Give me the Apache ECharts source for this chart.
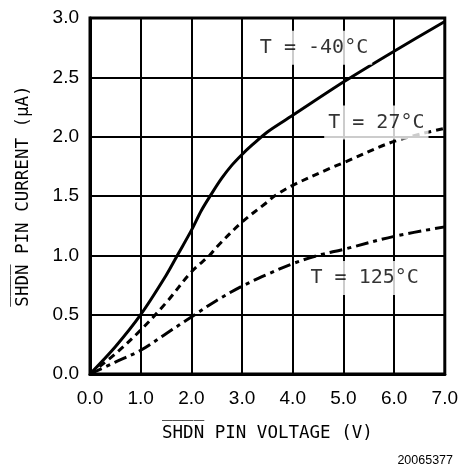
<!DOCTYPE html>
<html>
<head>
<meta charset="utf-8">
<script src="https://cdn.jsdelivr.net/npm/echarts@6/dist/echarts.min.js"></script>
<style>
html,body{margin:0;padding:0;background:#fff;}
#chart{width:461px;height:474px;}
</style>
</head>
<body>
<div id="chart"></div>
<script>
// Data
const voltageM40 = [0, 0.5, 1.0, 1.5, 1.75, 2.0, 2.2, 2.4, 2.6, 2.8, 3.0, 3.2, 3.5, 4.0, 5.0, 6.0, 7.0];
const currentM40 = [0, 0.23, 0.5, 0.83, 1.02, 1.21, 1.38, 1.52, 1.65, 1.76, 1.85, 1.93, 2.04, 2.18, 2.46, 2.72, 2.97];

const voltage27 = [0, 0.5, 1.0, 1.5, 2.0, 2.36, 2.5, 3.0, 3.5, 3.64, 4.0, 4.72, 5.0, 6.0, 7.0];
const current27 = [0, 0.17, 0.37, 0.6, 0.86, 1.0, 1.07, 1.28, 1.45, 1.5, 1.59, 1.73, 1.78, 1.96, 2.07];

const voltage125 = [0, 0.5, 1.0, 1.5, 2.0, 2.5, 3.0, 3.5, 4.0, 4.5, 5.0, 6.0, 7.0];
const current125 = [0, 0.1, 0.2, 0.34, 0.48, 0.62, 0.74, 0.84, 0.93, 1.0, 1.05, 1.16, 1.24];

const labelTexts = ['T = -40°C', 'T = 27°C', 'T = 125°C'];
const labelX = [4.42, 5.65, 5.42];
const labelY = [2.75, 2.12, 0.81];

const xTicks = [0, 1, 2, 3, 4, 5, 6, 7];
const yTicks = [0, 0.5, 1.0, 1.5, 2.0, 2.5, 3.0];

const xName = 'S\u0305H\u0305D\u0305N\u0305 PIN VOLTAGE (V)';
const yName = 'S\u0305H\u0305D\u0305N\u0305 PIN CURRENT (\u03BCA)';
const figId = '20065377';

function zip(xs, ys) { return xs.map((x, i) => [x, ys[i]]); }

const chart = echarts.init(document.getElementById('chart'), null, {renderer: 'canvas'});
const monoFont = '"DejaVu Sans Mono", "Liberation Mono", monospace';
const sansFont = '"Liberation Sans", Arial, sans-serif';

chart.setOption({
  animation: false,
  backgroundColor: '#fff',
  title: {
    text: figId,
    right: 3,
    bottom: 2,
    textStyle: {fontFamily: sansFont, fontSize: 12.5, fontWeight: 'normal', color: '#000'}
  },
  grid: {
    left: 90, right: 15, top: 18, bottom: 100,
    show: true, borderColor: '#000', borderWidth: 3, backgroundColor: 'transparent'
  },
  xAxis: {
    type: 'value',
    min: xTicks[0], max: xTicks[xTicks.length - 1], interval: 1,
    name: xName,
    nameLocation: 'middle',
    nameGap: 50,
    nameTextStyle: {fontFamily: monoFont, fontSize: 17.5, color: '#000'},
    axisLine: {show: true, lineStyle: {color: '#000', width: 3}},
    axisTick: {show: false},
    axisLabel: {
      margin: 15, color: '#000', fontFamily: sansFont, fontSize: 19,
      formatter: v => v.toFixed(1)
    },
    splitLine: {show: true, lineStyle: {color: '#000', width: 2}}
  },
  yAxis: {
    type: 'value',
    min: yTicks[0], max: yTicks[yTicks.length - 1], interval: 0.5,
    name: yName,
    nameLocation: 'middle',
    nameGap: 58,
    nameTextStyle: {fontFamily: monoFont, fontSize: 17.5, color: '#000'},
    axisLine: {show: true, lineStyle: {color: '#000', width: 3}},
    axisTick: {show: false},
    axisLabel: {
      margin: 11, color: '#000', fontFamily: sansFont, fontSize: 19,
      formatter: v => v.toFixed(1)
    },
    splitLine: {show: true, lineStyle: {color: '#000', width: 2}}
  },
  series: [
    {
      name: 'T = -40°C', type: 'line', data: zip(voltageM40, currentM40),
      smooth: 0.3, showSymbol: false, symbol: 'none',
      lineStyle: {color: '#000', width: 3, type: 'solid'}
    },
    {
      name: 'T = 27°C', type: 'line', data: zip(voltage27, current27),
      smooth: 0.35, showSymbol: false, symbol: 'none',
      lineStyle: {color: '#000', width: 3, type: [7, 5]}
    },
    {
      name: 'T = 125°C', type: 'line', data: zip(voltage125, current125),
      smooth: 0.35, showSymbol: false, symbol: 'none',
      lineStyle: {color: '#000', width: 3, type: [13, 5, 4, 5]}
    },
    {
      name: 'labels', type: 'scatter',
      data: labelX.map((x, i) => ({value: [x, labelY[i]], name: labelTexts[i]})),
      symbolSize: 0, z: 5,
      label: {
        show: true, position: 'inside',
        formatter: p => p.name,
        fontFamily: monoFont, fontSize: 20, color: '#000',
        backgroundColor: '#fff', padding: [7, 4, 7, 4]
      }
    }
  ]
});
</script>
</body>
</html>
